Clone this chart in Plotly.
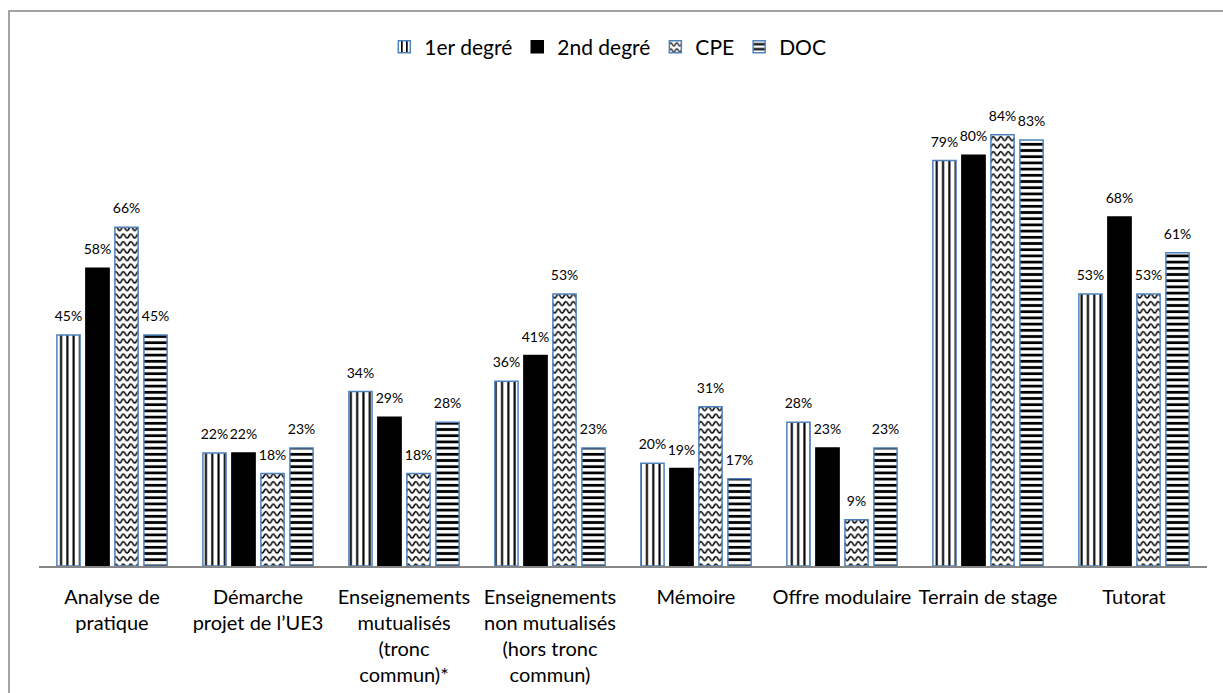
import plotly.graph_objects as go

categories = [
    "Analyse de<br>pratique",
    "Démarche<br>projet de l’UE3",
    "Enseignements<br>mutualisés<br>(tronc<br>commun)*",
    "Enseignements<br>non mutualisés<br>(hors tronc<br>commun)",
    "Mémoire",
    "Offre modulaire",
    "Terrain de stage",
    "Tutorat",
]
series_names = ["1er degré", "2nd degré", "CPE", "DOC"]
v_1er = [0.45, 0.22, 0.34, 0.36, 0.20, 0.28, 0.79, 0.53]
v_2nd = [0.58, 0.22, 0.29, 0.41, 0.19, 0.23, 0.80, 0.68]
v_cpe = [0.66, 0.18, 0.18, 0.53, 0.31, 0.09, 0.84, 0.53]
v_doc = [0.45, 0.23, 0.28, 0.23, 0.17, 0.23, 0.83, 0.61]

BLUE = "#4F81BD"
FONT = "Lato"
GAP = 0.205

fig = go.Figure()

def add(name, vals, line_color, pattern=None, color="#FFFFFF"):
    marker = dict(color=color, line=dict(color=line_color, width=1.5))
    if pattern:
        marker["pattern"] = pattern
    fig.add_trace(go.Bar(
        name=name, x=categories, y=vals, marker=marker,
        hoverinfo="skip", offsetgroup=name,
    ))

add(series_names[0], v_1er, BLUE,
    dict(shape="|", size=6.3, solidity=0.33, fgcolor="#000000", bgcolor="#FFFFFF", fillmode="replace"))
add(series_names[1], v_2nd, "#000000", None, color="#000000")
add(series_names[2], v_cpe, BLUE,
    dict(shape="x", size=7.5, solidity=0.2, fgcolor="#010101", bgcolor="#FFFFFF", fillmode="replace"))
add(series_names[3], v_doc, BLUE,
    dict(shape="-", size=6.2, solidity=0.45, fgcolor="#000000", bgcolor="#FFFFFF", fillmode="replace"))

# value labels (scatter text grouped like the bars)
for name, vals in zip(series_names, [v_1er, v_2nd, v_cpe, v_doc]):
    fig.add_trace(go.Scatter(
        x=categories, y=vals, mode="markers+text", showlegend=False,
        offsetgroup=name, hoverinfo="skip",
        marker=dict(size=15, opacity=0),
        texttemplate="%{y:.0%}", textposition="top center",
        textfont=dict(family=FONT, size=14, color="#000000"),
        cliponaxis=False,
    ))

W, H = 1223, 693
ml, mr, mt, mb = 39, 16, 104, 127
pw, ph = W - ml - mr, H - mt - mb

def px_x(x):
    return (x - ml) / pw

def px_y(y):
    return (H - mb - y) / ph

fig.update_layout(
    width=W, height=H,
    margin=dict(l=ml, r=mr, t=mt, b=mb),
    paper_bgcolor="#FFFFFF", plot_bgcolor="#FFFFFF",
    barmode="group", bargap=GAP, bargroupgap=0.2,
    scattermode="group", scattergap=GAP,
    font=dict(family=FONT, size=20, color="#000000"),
    showlegend=True,
    legend=dict(orientation="h", xref="container", yref="container",
                x=0.497, xanchor="center", y=1 - 47 / H, yanchor="middle",
                font=dict(family=FONT, size=21, color="#000000"),
                itemwidth=30, traceorder="normal"),
    xaxis=dict(showline=True, linecolor="#868686", linewidth=1.5,
               ticks="outside", ticklen=12, tickcolor="rgba(0,0,0,0)",
               tickfont=dict(family=FONT, size=20, color="#000000"),
               showgrid=False, zeroline=False, tickangle=0, automargin=False),
    yaxis=dict(range=[0, 0.9], visible=False, showgrid=False, zeroline=False),
    shapes=[dict(type="rect", xref="paper", yref="paper",
                 x0=px_x(9), x1=px_x(1232), y0=px_y(703), y1=px_y(11),
                 line=dict(color="#868686", width=1.5), fillcolor="rgba(0,0,0,0)",
                 layer="below")],
)

post = r"""
(function(){
  document.body.style.margin='0';
  var NS='http://www.w3.org/2000/svg';
  function fix(){
    var pats=document.querySelectorAll('pattern');
    pats.forEach(function(p){
      var path=p.querySelector('path');
      if(!path) return;
      var s=(path.getAttribute('stroke')||path.style.stroke||'').replace(/\s/g,'');
      if(s!=='rgb(1,1,1)' && s!=='#010101') return;
      var S=7.5, h=S/2, y0=4.6, a=2.0;
      p.setAttribute('width',S); p.setAttribute('height',S);
      while(p.firstChild) p.removeChild(p.firstChild);
      var r=document.createElementNS(NS,'rect');
      r.setAttribute('width',S); r.setAttribute('height',S); r.setAttribute('fill','#ffffff');
      p.appendChild(r);
      var d='M'+(-h)+','+y0;
      for(var i=-1;i<3;i++){
        var xs=i*h;
        var cy=(i%2===0)?(y0-2*a):(y0+2*a);
        d+=' Q'+(xs+h/2)+','+cy+' '+(xs+h)+','+y0;
      }
      var w=document.createElementNS(NS,'path');
      w.setAttribute('d',d);
      w.setAttribute('fill','none'); w.setAttribute('stroke','#000000'); w.setAttribute('stroke-width','1.5');
      p.appendChild(w);
    });
  }
  fix(); setTimeout(fix,50); setTimeout(fix,300); setTimeout(fix,1000);
  var gd=document.getElementById('{plot_id}');
  if(gd && gd.on){ gd.on('plotly_afterplot', fix); }
})();
"""

fig.write_html("out.html", post_script=post, config={"displayModeBar": False})
